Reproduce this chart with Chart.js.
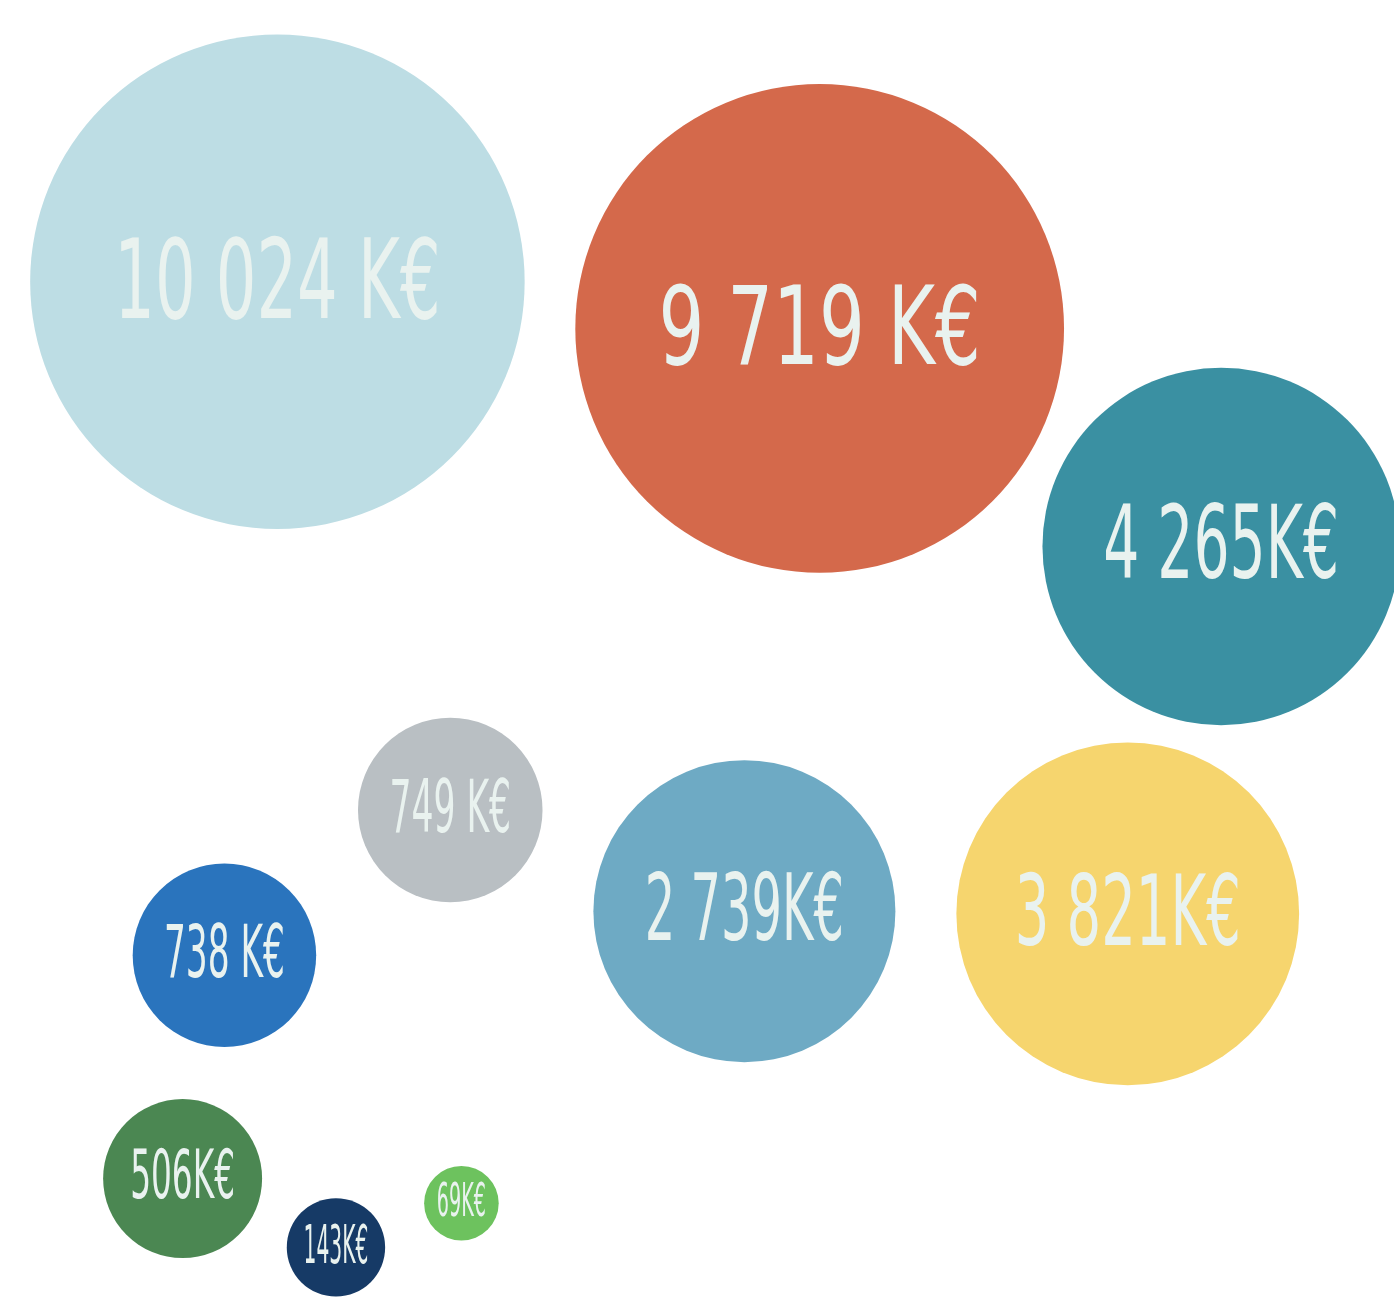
<!DOCTYPE html>
<html>
<head>
<meta charset="utf-8">
<script src="https://cdn.jsdelivr.net/npm/chart.js@4/dist/chart.umd.min.js"></script>
<style>
  html, body { margin: 0; padding: 0; background: #ffffff; }
  #wrap { width: 1394px; height: 1298px; position: relative; }
</style>
</head>
<body>
<div id="wrap"><canvas id="chart"></canvas></div>
<script>
// amounts in K€, one bubble each
const amounts = [10024, 9719, 4265, 749, 738, 2739, 3821, 506, 143, 69]
const labels = ['10 024 K€', '9 719 K€', '4 265K€', '749 K€', '738 K€', '2 739K€', '3 821K€', '506K€', '143K€', '69K€']
// where each bubble sits on the layout grid (0-100 both ways, y going down)
const gridX = [19.9, 58.8, 87.6, 32.3, 16.1, 53.4, 80.9, 13.1, 24.1, 33.1]
const gridY = [21.7, 25.3, 42.1, 62.4, 73.6, 70.2, 70.4, 90.8, 96.1, 92.7]
const colors = ['#bddde4', '#d4694b', '#3a90a2', '#b9bfc3', '#2a74bd', '#6eaac4', '#f6d56e', '#4b8752', '#163a66', '#6dc25e']

const textColor = '#e9f2ef'
const labelFont = '"DejaVu Sans Condensed", "Liberation Sans Narrow", sans-serif'

// radius grows a bit slower than area would (the picture is hand drawn)
const radiusFor = (v) => 7.46 * Math.pow(v, 0.38)

const bubbleLabels = {
    id: 'bubbleLabels',
    afterDatasetsDraw(chart) {
        const ctx = chart.ctx
        const meta = chart.getDatasetMeta(0)
        meta.data.forEach((pt, i) => {
            const r = radiusFor(amounts[i])
            const target = r * 2 * 0.66
            const capTarget = Math.min(5.5 * Math.sqrt(r), 80)
            ctx.save()
            ctx.font = '100px ' + labelFont
            const w = ctx.measureText(labels[i]).width
            const size = 100 * target / w
            ctx.font = size + 'px ' + labelFont
            const stretch = capTarget / (0.73 * size)
            ctx.fillStyle = textColor
            ctx.textAlign = 'center'
            ctx.textBaseline = 'middle'
            ctx.translate(pt.x, pt.y + r * 0.03)
            ctx.scale(1, stretch)
            ctx.fillText(labels[i], 0, 0)
            ctx.restore()
        })
    },
}

const points = amounts.map((v, i) => ({ x: gridX[i], y: gridY[i], r: radiusFor(v) }))

new Chart(document.getElementById('chart'), {
    type: 'bubble',
    data: {
        labels: labels,
        datasets: [
            {
                data: points,
                backgroundColor: colors,
                borderWidth: 0,
                hoverBorderWidth: 0,
                clip: false,
            },
        ],
    },
    options: {
        responsive: true,
        maintainAspectRatio: false,
        devicePixelRatio: 1,
        animation: false,
        events: [],
        layout: { padding: 0, autoPadding: false },
        plugins: {
            legend: { display: false },
            tooltip: { enabled: false },
        },
        scales: {
            x: { type: 'linear', min: 0, max: 100, display: false },
            y: { type: 'linear', min: 0, max: 100, reverse: true, display: false },
        },
    },
    plugins: [bubbleLabels],
})
</script>
</body>
</html>
